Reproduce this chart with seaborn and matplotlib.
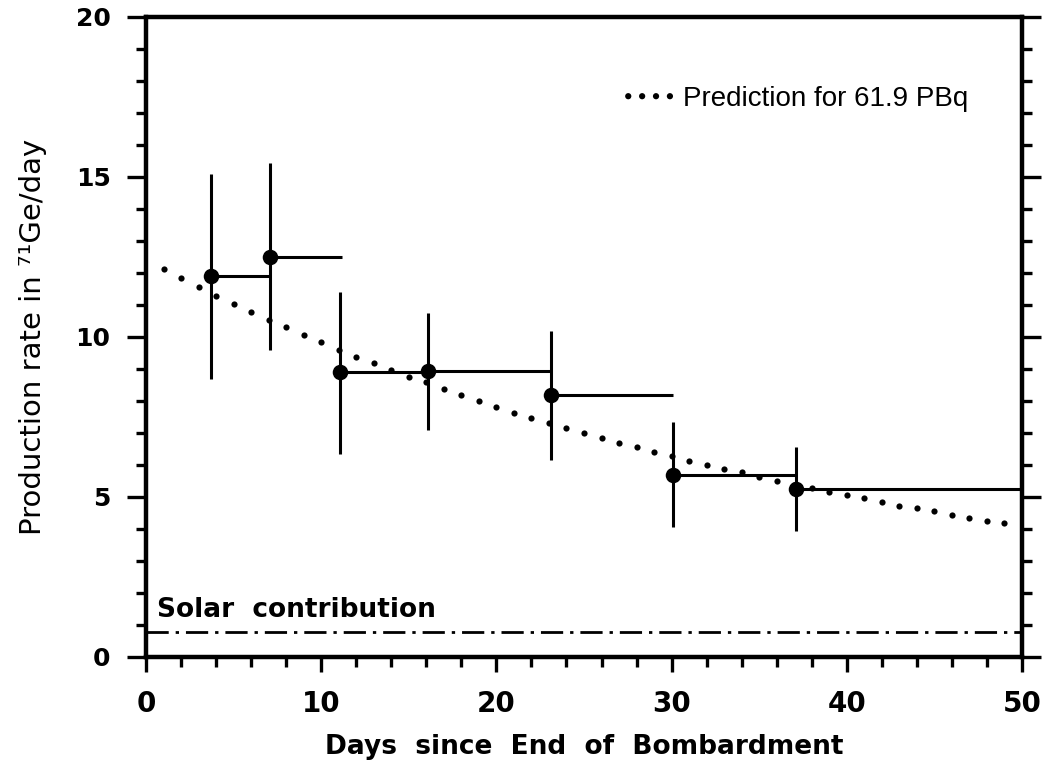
import numpy as np
import matplotlib
matplotlib.use("Agg")
import matplotlib.pyplot as plt
import seaborn as sns

# measured production rates (71Ge/day), horizontal bars run to the end of each run
obs_day = [3.7, 7.1, 11.1, 16.1, 23.1, 30.1, 37.1]
obs_rate = [11.9, 12.5, 8.9, 8.95, 8.2, 5.7, 5.25]
obs_low = [8.7, 9.6, 6.35, 7.1, 6.15, 4.05, 3.95]
obs_high = [15.1, 15.45, 11.4, 10.75, 10.2, 7.35, 6.55]
run_end = [7.0, 11.2, 16.1, 23.1, 30.1, 37.1, 50.0]

# prediction curve, one dot per day
pred_day = list(range(1, 50))
pred_rate = [12.12, 11.84, 11.56, 11.29, 11.03, 10.77, 10.53, 10.30, 10.05, 9.83,
             9.59, 9.38, 9.18, 8.97, 8.76, 8.58, 8.36, 8.19, 8.01, 7.82,
             7.64, 7.48, 7.32, 7.16, 7.00, 6.83, 6.70, 6.57, 6.42, 6.28,
             6.13, 6.00, 5.86, 5.78, 5.63, 5.51, 5.39, 5.28, 5.17, 5.06,
             4.96, 4.83, 4.73, 4.65, 4.57, 4.44, 4.35, 4.26, 4.18]

solar_level = 0.78

sns.set_style("ticks")
plt.rcParams['font.family'] = ['DejaVu Sans']
plt.rcParams.update({'text.color': 'black', 'axes.labelcolor': 'black',
                     'xtick.color': 'black', 'ytick.color': 'black'})

fig = plt.figure(figsize=(10.54, 7.61), dpi=100)
ax = fig.add_axes([146 / 1054, 104 / 761, 876 / 1054, 640 / 761])

# prediction dots
sns.scatterplot(x=pred_day, y=pred_rate, s=20, color='black', linewidth=0,
                label='Prediction for 61.9 PBq', ax=ax, zorder=3)

# error bars
x = np.array(obs_day)
y = np.array(obs_rate)
ax.errorbar(x, y,
            xerr=[np.zeros_like(x), np.array(run_end) - x],
            yerr=[y - np.array(obs_low), np.array(obs_high) - y],
            fmt='none', ecolor='black', elinewidth=2.2, capsize=0, zorder=2)
sns.scatterplot(x=obs_day, y=obs_rate, s=125, color='black', linewidth=0,
                ax=ax, zorder=4, legend=False)

# solar contribution
ax.axhline(solar_level, color='black', lw=2.0, ls=(0, (8, 2.5, 1.2, 2.5)), zorder=1)
ax.text(0.63, 1.25, 'Solar  contribution', fontsize=19, fontweight='bold',
        va='baseline', ha='left')

ax.set_xlim(0, 50)
ax.set_ylim(0, 20)
ax.set_xticks(range(0, 51, 10))
ax.set_xticks(range(0, 51, 2), minor=True)
ax.set_yticks(range(0, 21, 5))
ax.set_yticks(range(0, 21, 1), minor=True)

for side in ['left', 'right', 'top', 'bottom']:
    ax.spines[side].set_visible(True)
    ax.spines[side].set_linewidth(3.2)
    ax.spines[side].set_color('black')

ax.tick_params(axis='x', which='major', direction='out', length=11, width=2.4,
               pad=13, labelsize=20, top=False)
ax.tick_params(axis='x', which='minor', direction='out', length=7, width=2.4, top=False)
ax.tick_params(axis='y', which='major', direction='out', length=13.5, width=2.4,
               pad=12, labelsize=18, right=True, labelright=False)
ax.tick_params(axis='y', which='minor', direction='out', length=7, width=2.4, right=True)
for lab in ax.get_xticklabels() + ax.get_yticklabels():
    lab.set_fontweight('bold')

ax.set_xlabel('Days  since  End  of  Bombardment', fontsize=19, fontweight='bold')
ax.xaxis.set_label_coords(0.5, -0.12)
ax.set_ylabel('Production rate in ⁷¹Ge/day', fontsize=21)
ax.yaxis.set_label_coords(-0.113, 0.5)

handles, labels = ax.get_legend_handles_labels()
ax.legend(handles, labels, loc='center left', bbox_to_anchor=(0.541, 0.872),
          frameon=False, scatterpoints=4, scatteryoffsets=[0.5],
          handlelength=2.1, handletextpad=0.17, borderpad=0, borderaxespad=0,
          prop={'family': 'Liberation Sans', 'size': 20})

fig.savefig('out.png', dpi=100)
